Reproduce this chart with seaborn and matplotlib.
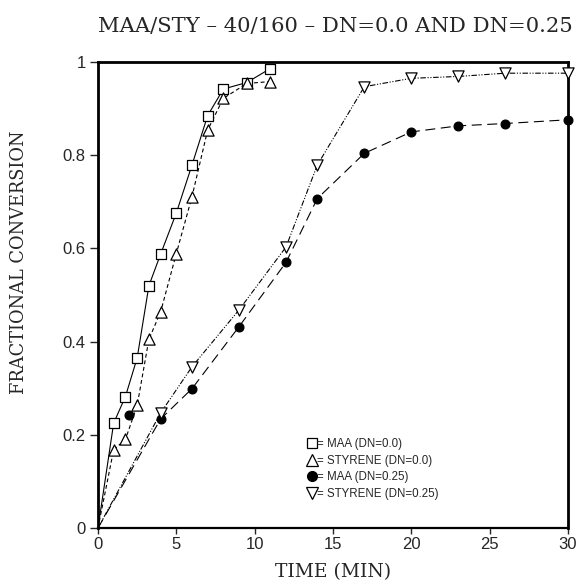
import matplotlib
matplotlib.use("Agg")
import matplotlib.pyplot as plt
from matplotlib.lines import Line2D
import seaborn as sns
import pandas as pd

# Conversion data: time in minutes, fractional conversion
t_dn0 = [0, 1, 1.75, 2.5, 3.25, 4, 5, 6, 7, 8, 9.5, 11]
maa_dn0 = [0, 0.225, 0.282, 0.365, 0.52, 0.588, 0.676, 0.779, 0.885, 0.942, 0.956, 0.986]
sty_dn0 = [0, 0.168, 0.19, 0.263, 0.405, 0.464, 0.589, 0.711, 0.854, 0.922, 0.954, 0.958]

t_maa25 = [0, 4, 6, 9, 12, 14, 17, 20, 23, 26, 30]
maa_dn25 = [0, 0.234, 0.299, 0.432, 0.570, 0.707, 0.804, 0.850, 0.863, 0.868, 0.876]
# isolated early sample, not joined by the curve
t_maa25_extra = [2]
maa_dn25_extra = [0.242]

t_sty25 = [0, 4, 6, 9, 12, 14, 17, 20, 23, 26, 30]
sty_dn25 = [0, 0.247, 0.346, 0.468, 0.603, 0.779, 0.947, 0.965, 0.969, 0.976, 0.976]

x_ticks = [0, 5, 10, 15, 20, 25, 30]
y_ticks = [0, 0.2, 0.4, 0.6, 0.8, 1.0]
y_tick_labels = ["0", "0.2", "0.4", "0.6", "0.8", "1"]
legend_labels = ["= MAA (DN=0.0)", "= STYRENE (DN=0.0)", "= MAA (DN=0.25)", "= STYRENE (DN=0.25)"]

sns.set_style("ticks")
plt.rcParams["font.family"] = ["Liberation Sans", "DejaVu Sans"]

fig = plt.figure(figsize=(5.8, 5.83), dpi=100)
ax = fig.add_axes([98 / 580, 1 - 528 / 583, 470 / 580, 466 / 583])

series = [
    (t_dn0, maa_dn0, "-", "s", "white", 55),
    (t_dn0, sty_dn0, (0, (3.5, 2.5)), "^", "white", 65),
    (t_maa25, maa_dn25, (0, (9, 5)), "o", "black", 40),
    (t_sty25, sty_dn25, (0, (5, 1.5, 1, 1.5, 1, 1.5)), "v", "white", 65),
]

for t, y, ls, mk, fc, size in series:
    df = pd.DataFrame({"t": t, "y": y})
    sns.lineplot(data=df, x="t", y="y", ax=ax, color="black", linewidth=0.8,
                 linestyle=ls, sort=False, estimator=None)
    pts = df.iloc[1:]
    sns.scatterplot(data=pts, x="t", y="y", ax=ax, marker=mk, s=size,
                    facecolor=fc, edgecolor="black", linewidth=0.9, zorder=3,
                    clip_on=False)

df_extra = pd.DataFrame({"t": t_maa25_extra, "y": maa_dn25_extra})
sns.scatterplot(data=df_extra, x="t", y="y", ax=ax, marker="o", s=40,
                facecolor="black", edgecolor="black", linewidth=0.9, zorder=3)

ax.set_xlim(0, 30)
ax.set_ylim(0, 1)
ax.set_xticks(x_ticks)
ax.set_xticklabels([str(v) for v in x_ticks])
ax.set_yticks(y_ticks)
ax.set_yticklabels(y_tick_labels)
ax.set_xlabel("")
ax.set_ylabel("")
ax.tick_params(axis="x", direction="out", length=4.5, width=1.0, labelsize=12, pad=2)
ax.tick_params(axis="y", direction="out", length=6, width=1.0, labelsize=12, pad=3)
for side, sp in ax.spines.items():
    sp.set_visible(True)
    sp.set_linewidth(1.6 if side == "bottom" else 2.0)
    sp.set_color("black")

serif = ["DejaVu Serif"]
fig.text(335 / 580, 1 - 26 / 583, "MAA/STY \u2013 40/160 \u2013 DN=0.0 AND DN=0.25",
         ha="center", va="center", fontsize=15.2, family=serif)
fig.text(333 / 580, 1 - 572 / 583, "TIME (MIN)", ha="center", va="center",
         fontsize=13.5, family=serif)
fig.text(19 / 580, 1 - 262 / 583, "FRACTIONAL CONVERSION", ha="center", va="center",
         rotation=90, fontsize=12.8, family=serif)

handles = [
    Line2D([], [], linestyle="none", marker="s", markersize=7.5, markerfacecolor="white",
           markeredgecolor="black", markeredgewidth=0.9),
    Line2D([], [], linestyle="none", marker="^", markersize=8, markerfacecolor="white",
           markeredgecolor="black", markeredgewidth=0.9),
    Line2D([], [], linestyle="none", marker="o", markersize=7, markerfacecolor="black",
           markeredgecolor="black"),
    Line2D([], [], linestyle="none", marker="v", markersize=8, markerfacecolor="white",
           markeredgecolor="black", markeredgewidth=0.9),
]
ax.legend(handles, legend_labels, loc="upper left",
          bbox_to_anchor=(307 / 580, 1 - 438 / 583), bbox_transform=fig.transFigure,
          frameon=False, fontsize=8.3, handlelength=0.8, handletextpad=0.1,
          labelspacing=0.4, borderpad=0, borderaxespad=0)

fig.savefig("out.png", dpi=100)
